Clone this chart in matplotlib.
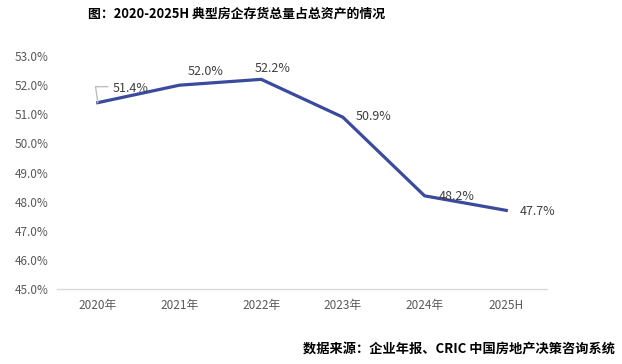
import matplotlib.pyplot as plt
from matplotlib.ticker import FuncFormatter

plt.rcParams['font.family'] = ['Noto Sans CJK SC', 'DejaVu Sans']

years = ["2020年", "2021年", "2022年", "2023年", "2024年", "2025H"]
ratio = [51.4, 52.0, 52.2, 50.9, 48.2, 47.7]
y_ticks = [45, 46, 47, 48, 49, 50, 51, 52, 53]

LINE = "#3a4a9c"
GREY = "#595959"

fig = plt.figure(figsize=(6.22, 3.64), dpi=100)
ax = fig.add_axes([0.0916, 0.206, 0.788, 0.640])

x = list(range(len(years)))
ax.plot(x, ratio, color=LINE, linewidth=2.3, solid_joinstyle="round")

ax.set_xlim(-0.5, len(years) - 0.5)
ax.set_ylim(45, 53)
ax.set_yticks(y_ticks)
ax.yaxis.set_major_formatter(FuncFormatter(lambda v, _: f"{v:.1f}%"))
ax.set_xticks(x)
ax.set_xticklabels(years)
ax.tick_params(axis="both", length=0, labelsize=8.5, colors=GREY)
ax.tick_params(axis="x", pad=7)
ax.tick_params(axis="y", pad=6)

for side in ["top", "right", "left"]:
    ax.spines[side].set_visible(False)
ax.spines["bottom"].set_color("#d9d9d9")
ax.spines["bottom"].set_linewidth(1)

# data labels, left edge offset from the point in pixels
offsets = [(15, 14), (8, 14), (-7, 11), (13, 1), (14, -1), (13, -1)]
for i, (v, off) in enumerate(zip(ratio, offsets)):
    ax.annotate(f"{v:.1f}%", (i, v), xytext=off, textcoords="offset pixels",
                ha="left", va="center", fontsize=9, color="#404040")

# leader line for first label
ax.annotate("", (0, ratio[0]), xytext=(10, 16), textcoords="offset pixels",
            arrowprops=dict(arrowstyle="-", color="#bfbfbf", lw=1,
                            shrinkA=0, shrinkB=0,
                            connectionstyle="angle,angleA=0,angleB=98,rad=0"))

fig.text(0.381, 0.964, "图：2020-2025H 典型房企存货总量占总资产的情况",
         ha="center", va="center", fontsize=9.3, fontweight="bold", color="#000000")
fig.text(0.989, 0.04, "数据来源：企业年报、CRIC 中国房地产决策咨询系统",
         ha="right", va="center", fontsize=9.5, fontweight="bold", color="#000000")

fig.savefig("out.png", dpi=100)
